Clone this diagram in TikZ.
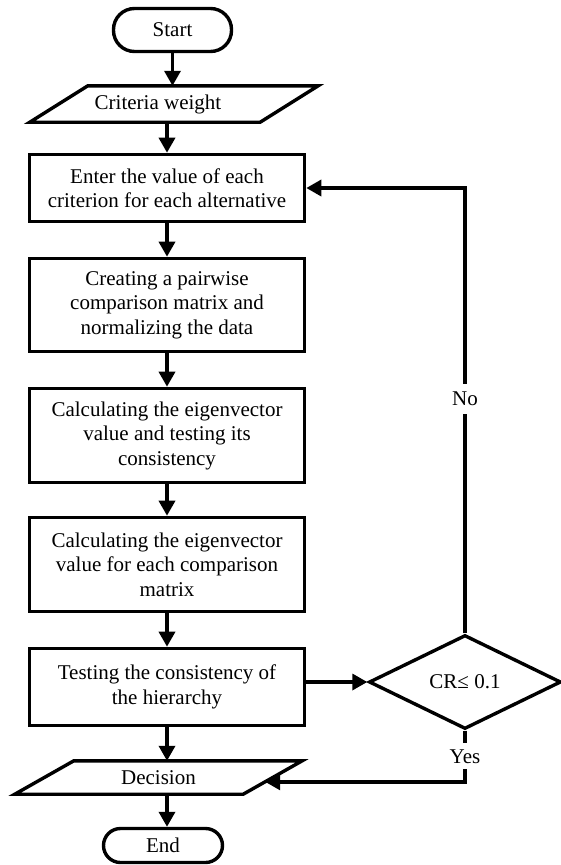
\documentclass[tikz,border=0pt]{standalone}
\usepackage{fontspec}
\setmainfont{Liberation Serif}
\usetikzlibrary{arrows.meta,shapes.geometric,calc}
\begin{document}
\begin{tikzpicture}[x=1pt,y=-1pt,
  every node/.style={font=\fontsize{21}{24.5}\selectfont, inner sep=0pt},
  proc/.style={draw, line width=3.6pt, minimum width=275pt, align=center},
  term/.style={draw, line width=3.4pt, minimum width=118pt},
  io/.style={align=center},
  shapeline/.style={line width=3.4pt, line join=miter},
  flow/.style={line width=3.4pt, -{Triangle[length=15pt,width=16pt]}},
  decide/.style={draw, diamond, line width=3.4pt, minimum width=192pt, minimum height=94pt},
  lbl/.style={fill=white, inner xsep=2pt}
]
\useasboundingbox (0,0) rectangle (560,865);

% terminals
\node[term, rounded corners=21pt, minimum height=43pt] (start) at (172.5,30) {Start};
\node[term, rounded corners=17pt, minimum height=34pt, minimum width=119pt] (end) at (163,845.5) {End};

% input/output
\node[io, minimum width=288pt, minimum height=36pt] (crit) at (174,104) {Criteria weight\hspace*{32pt}};
\draw[shapeline] (crit.south west) -- ($(crit.north west)+(58,0)$) -- (crit.north east) -- ($(crit.south east)+(-58,0)$) -- cycle;

\node[io, minimum width=287pt, minimum height=33pt] (dec) at (158.5,777.5) {Decision};
\coordinate (decBR) at ($(dec.south east)+(-59,0)$);
\coordinate (decTL) at ($(dec.north west)+(59,0)$);
\draw[shapeline] (dec.south west) -- (decTL) -- (dec.north east) -- (decBR) -- cycle;
\coordinate (decin) at ($(decBR)!0.371!(dec.north east)$);

% processes
\node[proc, minimum height=67pt] (b1) at (167,188) {Enter the value of each\\criterion for each alternative};
\node[proc, minimum height=93pt] (b2) at (167,305) {Creating a pairwise\\comparison matrix and\\normalizing the data};
\node[proc, minimum height=94pt] (b3) at (167,435.5) {Calculating the eigenvector\\value and testing its\\consistency};
\node[proc, minimum height=94pt] (b4) at (167,564.5) {Calculating the eigenvector\\value for each comparison\\matrix};
\node[proc, minimum height=77pt] (b5) at (167,687) {Testing the consistency of\\the hierarchy};

% decision
\node[decide] (cr) at (465,682) {CR≤ 0.1};

% connectors
\draw[flow] (start.south) -- (start.south |- crit.north);
\draw[flow] (b1.north |- crit.south) -- (b1.north);
\draw[flow] (b1) -- (b2);
\draw[flow] (b2) -- (b3);
\draw[flow] (b3) -- (b4);
\draw[flow] (b4) -- (b5);
\draw[flow] (b5.east |- cr.west) -- (cr.west);
\draw[flow] (b5.south) -- (b5.south |- dec.north);
\draw[flow] (b5.south |- dec.south) -- (b5.south |- end.north);
\draw[flow] (cr.north) |- node[lbl, pos=0.263, inner ysep=8pt] {No} (b1.east);
\draw[flow] (cr.south) |- node[lbl, pos=0.25, inner ysep=6pt] {Yes} (decin);
\end{tikzpicture}
\end{document}
